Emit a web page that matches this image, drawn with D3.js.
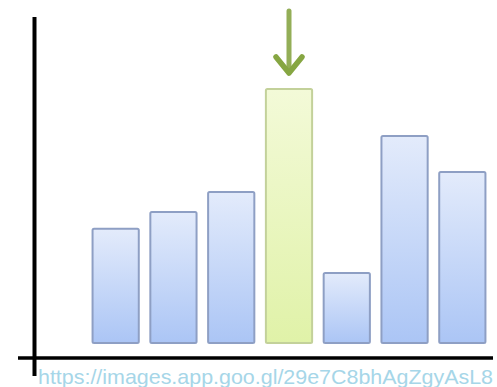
<!DOCTYPE html>
<html><head><meta charset="utf-8">
<script src="https://cdn.jsdelivr.net/npm/d3@7"></script>
<style>html,body{margin:0;padding:0;background:#fff;}svg{display:block;}</style>
</head><body>
<script>
const categories = ["A","B","C","D","E","F","G"];
const values = [45, 51.6, 59.4, 100, 27.6, 81.5, 67.3];
const highlight = "D";
const caption = "https://images.app.goo.gl/29e7C8bhAgZgyAsL8";

const W = 497, H = 387;
const svg = d3.select("body").append("svg").attr("width", W).attr("height", H);
const defs = svg.append("defs");
const gb = defs.append("linearGradient").attr("id","gBlue").attr("x1",0).attr("y1",0).attr("x2",0).attr("y2",1);
gb.append("stop").attr("offset","0%").attr("stop-color","#e3ebfb");
gb.append("stop").attr("offset","100%").attr("stop-color","#abc5f5");
const gg = defs.append("linearGradient").attr("id","gGreen").attr("x1",0).attr("y1",0).attr("x2",0).attr("y2",1);
gg.append("stop").attr("offset","0%").attr("stop-color","#f3fad8");
gg.append("stop").attr("offset","100%").attr("stop-color","#e0f2a8");

const x = d3.scaleBand().domain(categories).range([81, 497]).paddingInner(0.2).paddingOuter(0.2);
const y = d3.scaleLinear().domain([0, 100]).range([343, 89]);

svg.selectAll("rect.bar").data(categories).join("rect")
  .attr("class","bar")
  .attr("x", d => x(d))
  .attr("y", (d,i) => y(values[i]))
  .attr("width", x.bandwidth())
  .attr("height", (d,i) => y(0) - y(values[i]))
  .attr("rx", 1.5)
  .attr("fill", d => d === highlight ? "url(#gGreen)" : "url(#gBlue)")
  .attr("stroke", d => d === highlight ? "#c3d19a" : "#8e9fc4")
  .attr("stroke-width", 2);

// arrow above highlighted bar
const hi = categories.indexOf(highlight);
const ax = x(highlight) + x.bandwidth()/2;
const topY = y(values[hi]);
svg.append("line").attr("x1", ax).attr("x2", ax).attr("y1", topY - 78).attr("y2", topY - 18)
  .attr("stroke", "#93ae57").attr("stroke-width", 5).attr("stroke-linecap","round");
svg.append("path")
  .attr("d", `M${ax-13},${topY-32} L${ax},${topY-16} L${ax+13},${topY-32}`)
  .attr("fill","none").attr("stroke","#86a642").attr("stroke-width",5.5).attr("stroke-linecap","round").attr("stroke-linejoin","round");

// axes
svg.append("line").attr("x1", 18).attr("x2", 493).attr("y1", 358).attr("y2", 358)
  .attr("stroke", "#000").attr("stroke-width", 3.5);
svg.append("line").attr("x1", 34.5).attr("x2", 34.5).attr("y1", 17).attr("y2", 376)
  .attr("stroke", "#000").attr("stroke-width", 4);

svg.append("text").attr("x", 38).attr("y", 384)
  .attr("font-family", "Liberation Sans, Arial, sans-serif").attr("font-size", 21)
  .attr("fill", "#a6d6e8").attr("textLength", 455).attr("lengthAdjust","spacingAndGlyphs")
  .text(caption);
</script>
</body></html>
